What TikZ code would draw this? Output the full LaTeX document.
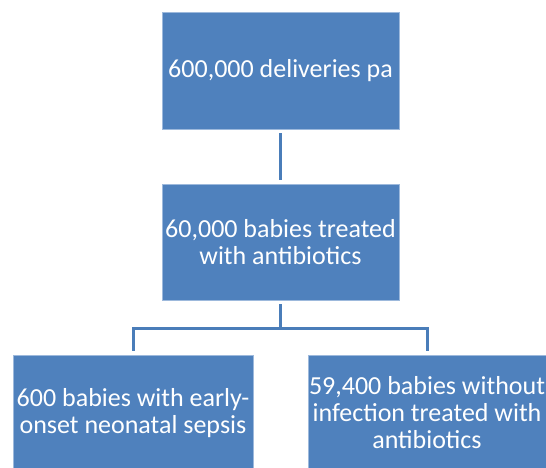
\documentclass[tikz,border=0pt]{standalone}
\usepackage{fontspec}
\setmainfont{Carlito}
\definecolor{boxfill}{HTML}{4F81BD}
\definecolor{boxline}{HTML}{9DB9DC}
\definecolor{connline}{HTML}{4A7DB9}
\begin{document}
\begin{tikzpicture}[x=1pt,y=-1pt,
  box/.style={draw=boxline,line width=0.6pt,fill=boxfill,text=white,
    minimum width=#1,inner sep=0pt,align=center,
    font=\fontsize{26}{27}\selectfont},
  conn/.style={draw=connline,line width=3pt}]
\useasboundingbox (0,0) rectangle (546,468);
\clip (0,0) rectangle (546,468);
\node[box=237pt,minimum height=117pt] (top) at (280.5,70.5) {600,000 deliveries pa};
\node[box=237pt,minimum height=116pt] (mid) at (280.5,242) {60,000 babies treated\\with antibiotics};
\node[box=240pt,minimum height=116pt] (left) at (133,413) {600 babies with early-\\onset neonatal sepsis};
\node[box=238pt,minimum height=116pt] (right) at (427,413) {59,400 babies without\\infection treated with\\antibiotics};
\coordinate (t1) at ([yshift=-4pt]top.south);
\coordinate (t2) at ([yshift=4pt]mid.north);
\draw[conn] (t1) -- (t2);
\coordinate (m1) at ([yshift=-4pt]mid.south);
\coordinate (jn) at (280.5,328);
\coordinate (l1) at ([yshift=4pt]left.north);
\coordinate (r1) at ([yshift=4pt]right.north);
\draw[conn] (m1) -- (jn);
\draw[conn] (l1) -- (l1 |- jn) -- (r1 |- jn) -- (r1);
\end{tikzpicture}
\end{document}
